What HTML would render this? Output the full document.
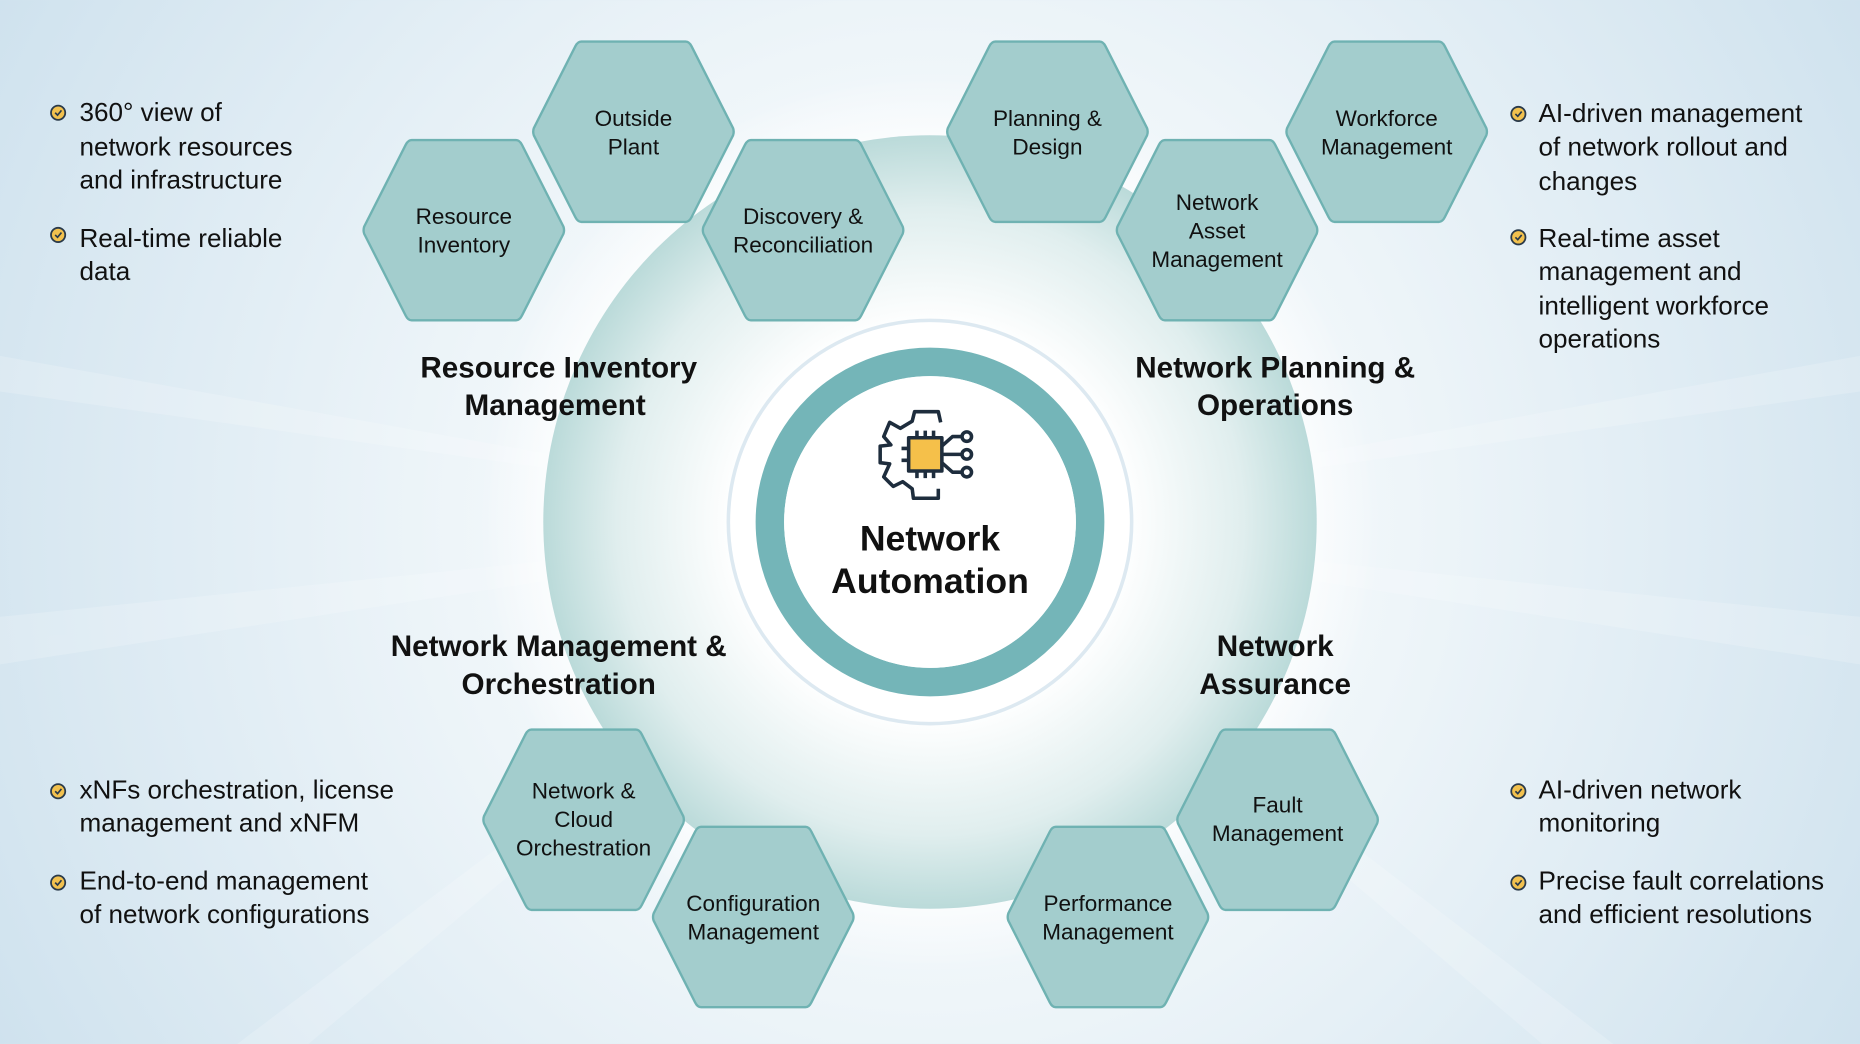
<!DOCTYPE html>
<html><head><meta charset="utf-8"><style>
html,body{margin:0;padding:0;width:1860px;height:1044px;overflow:hidden;background:#d8e7f0}
svg{display:block}
text{font-family:"Liberation Sans",sans-serif;fill:#111}
.h{font-size:19px;text-anchor:middle}
.b{font-size:22px}
.t{font-size:25px;font-weight:bold;text-anchor:middle}
</style></head><body>
<svg width="1860" height="1044" viewBox="0 0 1568 880" xmlns="http://www.w3.org/2000/svg">
<defs>
<radialGradient id="bg" cx="784" cy="440" r="900" gradientUnits="userSpaceOnUse">
<stop offset="0" stop-color="#ffffff"/><stop offset="0.45" stop-color="#eef5f9"/><stop offset="1" stop-color="#cfe2ee"/>
</radialGradient>
<radialGradient id="disc" cx="784" cy="440" r="330" gradientUnits="userSpaceOnUse">
<stop offset="0.5" stop-color="#ffffff"/><stop offset="0.8" stop-color="#e0eeee"/><stop offset="1" stop-color="#b8d9d8"/>
</radialGradient>
<radialGradient id="glow" cx="784" cy="440" r="380" gradientUnits="userSpaceOnUse">
<stop offset="0.8" stop-color="#ffffff" stop-opacity="0.9"/><stop offset="1" stop-color="#ffffff" stop-opacity="0"/>
</radialGradient>
<g id="hex"><path d="M-44,-76 L44,-76 Q47,-76 49,-72 L84,-3 Q85,0 84,3 L49,72 Q47,76 44,76 L-44,76 Q-47,76 -49,72 L-84,3 Q-85,0 -84,-3 L-49,-72 Q-47,-76 -44,-76 Z" fill="#a3cdcd" stroke="#6fb2b2" stroke-width="2" stroke-linejoin="round"/></g>
<g id="chk"><circle r="6" fill="#f2c14e" stroke="#2a3a4a" stroke-width="1.5"/><path d="M-2.5,0 L-0.5,2 L2.8,-2" fill="none" stroke="#2a3a4a" stroke-width="1.4"/></g>
</defs>
<rect width="1568" height="880" fill="url(#bg)"/>
<g opacity="0.18" fill="#ffffff">
<polygon points="784,440 0,520 0,560"/><polygon points="784,440 1568,520 1568,560"/>
<polygon points="784,440 0,300 0,330"/><polygon points="784,440 1568,300 1568,330"/>
<polygon points="784,440 200,880 260,880"/><polygon points="784,440 1300,880 1360,880"/>
</g>
<circle cx="784" cy="440" r="378" fill="url(#glow)"/>
<circle cx="784" cy="440" r="326" fill="url(#disc)"/>
<circle cx="784" cy="440" r="170" fill="#ffffff" stroke="#dde9f1" stroke-width="3"/>
<circle cx="784" cy="440" r="135" fill="none" stroke="#74b5b8" stroke-width="24"/>
<circle cx="784" cy="440" r="123" fill="#ffffff"/>
<g transform="translate(777,382)" fill="none" stroke="#1e2d3d" stroke-width="3" stroke-linejoin="round">
<path d="M16,-26 L14,-35 L-6,-35 L-8,-27 L-18,-21 L-27,-26 L-32,-14 L-26,-7 L-35,-6 L-35,8 L-27,9 L-32,20 L-24,28 L-16,24 L-8,30 L-7,38 L14,38 L14,30"/>
<rect x="-11" y="-13" width="28" height="28" fill="#f5c04a"/>
<path d="M-4,-13 v-6 M3,-13 v-6 M10,-13 v-6 M-4,15 v6 M3,15 v6 M10,15 v6 M-11,-4 h-6 M-11,6 h-6"/>
<path d="M17,-6 L26,-14 h8 M17,1 h17 M17,8 L26,16 h8"/>
<circle cx="38" cy="-14" r="4" fill="#fff"/><circle cx="38" cy="1" r="4" fill="#fff"/><circle cx="38" cy="16" r="4" fill="#fff"/>
</g>
<text x="784" y="464" style="font-size:30px;font-weight:bold;text-anchor:middle">Network</text>
<text x="784" y="500" style="font-size:30px;font-weight:bold;text-anchor:middle">Automation</text>
<use href="#hex" x="534" y="111"/><use href="#hex" x="391" y="194"/><use href="#hex" x="677" y="194"/>
<use href="#hex" x="883" y="111"/><use href="#hex" x="1026" y="194"/><use href="#hex" x="1169" y="111"/>
<use href="#hex" x="492" y="691"/><use href="#hex" x="635" y="773"/>
<use href="#hex" x="934" y="773"/><use href="#hex" x="1077" y="691"/>
<text class="h" x="534" y="106">Outside</text><text class="h" x="534" y="130">Plant</text>
<text class="h" x="391" y="189">Resource</text><text class="h" x="391" y="213">Inventory</text>
<text class="h" x="677" y="189">Discovery &amp;</text><text class="h" x="677" y="213">Reconciliation</text>
<text class="h" x="883" y="106">Planning &amp;</text><text class="h" x="883" y="130">Design</text>
<text class="h" x="1026" y="177">Network</text><text class="h" x="1026" y="201">Asset</text><text class="h" x="1026" y="225">Management</text>
<text class="h" x="1169" y="106">Workforce</text><text class="h" x="1169" y="130">Management</text>
<text class="h" x="492" y="673">Network &amp;</text><text class="h" x="492" y="697">Cloud</text><text class="h" x="492" y="721">Orchestration</text>
<text class="h" x="635" y="768">Configuration</text><text class="h" x="635" y="792">Management</text>
<text class="h" x="934" y="768">Performance</text><text class="h" x="934" y="792">Management</text>
<text class="h" x="1077" y="685">Fault</text><text class="h" x="1077" y="709">Management</text>
<text class="t" x="471" y="318">Resource Inventory</text><text class="t" x="468" y="350">Management</text>
<text class="t" x="1075" y="318">Network Planning &amp;</text><text class="t" x="1075" y="350">Operations</text>
<text class="t" x="471" y="553">Network Management &amp;</text><text class="t" x="471" y="585">Orchestration</text>
<text class="t" x="1075" y="553">Network</text><text class="t" x="1075" y="585">Assurance</text>
<use href="#chk" x="49" y="95"/><use href="#chk" x="49" y="198"/>
<text class="b" x="67" y="102">360° view of</text><text class="b" x="67" y="131">network resources</text><text class="b" x="67" y="159">and infrastructure</text>
<text class="b" x="67" y="208">Real-time reliable</text><text class="b" x="67" y="236">data</text>
<use href="#chk" x="1280" y="96"/><use href="#chk" x="1280" y="200"/>
<text class="b" x="1297" y="103">AI-driven management</text><text class="b" x="1297" y="131">of network rollout and</text><text class="b" x="1297" y="160">changes</text>
<text class="b" x="1297" y="208">Real-time asset</text><text class="b" x="1297" y="236">management and</text><text class="b" x="1297" y="265">intelligent  workforce</text><text class="b" x="1297" y="293">operations</text>
<use href="#chk" x="49" y="667"/><use href="#chk" x="49" y="744"/>
<text class="b" x="67" y="673">xNFs orchestration, license</text><text class="b" x="67" y="701">management and xNFM</text>
<text class="b" x="67" y="750">End-to-end management</text><text class="b" x="67" y="778">of network configurations</text>
<use href="#chk" x="1280" y="667"/><use href="#chk" x="1280" y="744"/>
<text class="b" x="1297" y="673">AI-driven network</text><text class="b" x="1297" y="701">monitoring</text>
<text class="b" x="1297" y="750">Precise fault correlations</text><text class="b" x="1297" y="778">and efficient resolutions</text>
</svg>
</body></html>
